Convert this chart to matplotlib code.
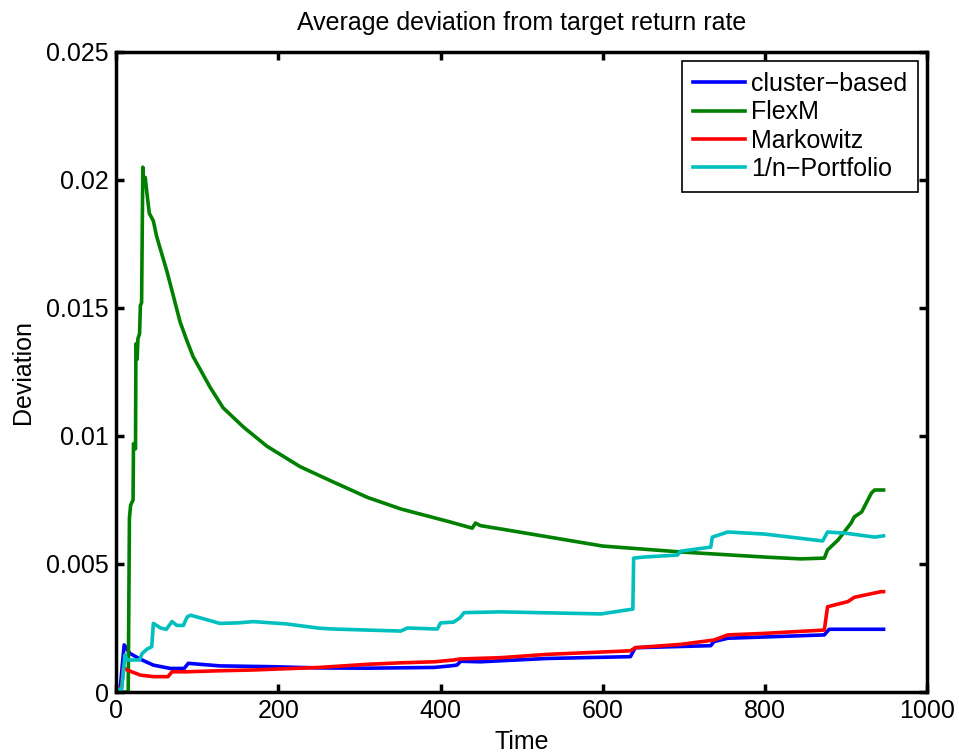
import numpy as np
import matplotlib
matplotlib.use("Agg")
import matplotlib.pyplot as plt
from matplotlib.ticker import FuncFormatter

plt.rcParams['font.family'] = ['Liberation Sans', 'DejaVu Sans']

# values (time, deviation)
t_cluster = [0, 5, 10, 17, 30, 46, 67, 84, 89, 128, 190, 251, 309, 392, 412,
             420, 425, 449, 531, 634, 640, 733, 737, 754, 873, 879, 946]
v_cluster = [0, 0.0001, 0.00184, 0.00151, 0.00128, 0.00105, 0.00092, 0.00092, 0.00112,
             0.00102, 0.00099, 0.00094, 0.00093, 0.00096, 0.00102,
             0.00105, 0.0012, 0.00118, 0.00131, 0.00138, 0.00173, 0.00181, 0.00197, 0.0021,
             0.00223, 0.00245, 0.00245]

t_flexm = [0, 15, 16.5, 18, 21, 21.5, 24, 24.5, 26, 27, 29, 30, 31.5, 33, 34, 36, 38, 41,
           46, 50, 63, 79, 87, 95, 116, 132, 157, 186, 227, 268, 310, 351, 412, 439, 443,
           449, 474, 600, 696, 800, 844, 873, 877, 890, 906, 910, 919, 931, 935, 946]
v_flexm = [0, 0, 0.0068, 0.0073, 0.0075, 0.0097, 0.0095, 0.0136, 0.013, 0.0138, 0.014,
           0.0151, 0.0152, 0.0205, 0.0199, 0.0201, 0.0195, 0.0187, 0.0184, 0.0178, 0.0164,
           0.01445, 0.01375, 0.0131, 0.0119, 0.0111, 0.01035, 0.0096, 0.0088, 0.0082,
           0.0076, 0.00715, 0.00664, 0.0064, 0.0066, 0.0065, 0.00637, 0.0057, 0.00547,
           0.00527, 0.0052, 0.00523, 0.00555, 0.00594, 0.0066, 0.00684, 0.00703, 0.00777,
           0.00789, 0.00789]

t_markowitz = [0, 7, 9, 13.6, 30, 46, 64, 69, 87, 128, 169, 251, 309, 351, 392,
               416, 424, 474, 531, 634, 640, 696, 737, 754, 799, 873, 877, 902, 910, 943, 946]
v_markowitz = [0, 0.0002, 0.00096, 0.00086, 0.00066, 0.0006, 0.0006, 0.00079, 0.00079,
               0.00083, 0.00086, 0.00096, 0.00108, 0.00114, 0.00118,
               0.00125, 0.00129, 0.00134, 0.00147, 0.00161, 0.00173, 0.00186, 0.00203,
               0.00223, 0.00229, 0.00242, 0.00333, 0.00353, 0.0037, 0.00392, 0.00392]

t_onen = [0, 7, 11, 14, 29, 32, 38, 44, 46, 55, 62, 69, 75, 83, 85, 88, 92, 128, 150, 169,
          210, 251, 268, 351, 359, 396, 400, 416, 424, 429, 474, 598, 637, 638, 650, 692,
          696, 733, 735, 754, 799, 871, 877, 900, 935, 946]
v_onen = [0.0001, 0.0001, 0.00145, 0.00125, 0.00125, 0.0015, 0.00167, 0.00177, 0.00268,
          0.0025, 0.00245, 0.00275, 0.0026, 0.0026, 0.00275, 0.00294, 0.003, 0.00268, 0.0027,
          0.00275, 0.00266, 0.00249, 0.00246, 0.00238, 0.0025, 0.00246, 0.0027, 0.00273,
          0.0029, 0.0031, 0.00313, 0.00305, 0.00324, 0.00523, 0.00527, 0.00535, 0.0055,
          0.00566, 0.00605, 0.00625, 0.00617, 0.0059, 0.00625, 0.0062, 0.00605, 0.0061]

fig = plt.figure(figsize=(9.59, 7.53), dpi=100)
ax = fig.add_axes([0.121, 0.081, 0.846, 0.85])

lw = 2.6
ax.plot(t_cluster, v_cluster, color=(0, 0, 1), lw=lw, label="cluster\u2212based")
ax.plot(t_flexm, v_flexm, color=(0, 0.5, 0), lw=lw, label="FlexM")
ax.plot(t_markowitz, v_markowitz, color=(1, 0, 0), lw=lw, label="Markowitz")
ax.plot(t_onen, v_onen, color=(0, 0.75, 0.75), lw=lw, label="1/n\u2212Portfolio")

ax.set_xlim(0, 1000)
ax.set_ylim(0, 0.025)
ax.set_xticks(np.arange(0, 1001, 200))
ax.set_yticks([0, 0.005, 0.01, 0.015, 0.02, 0.025])
ax.yaxis.set_major_formatter(FuncFormatter(lambda v, p: "%g" % round(v, 4)))

for s in ax.spines.values():
    s.set_linewidth(2.5)
ax.tick_params(direction='in', length=5.5, width=2.5, labelsize=18, pad=5,
               top=True, right=True)

ax.set_title("Average deviation from target return rate", fontsize=18, pad=16)
ax.set_xlabel("Time", fontsize=18, labelpad=5)
ax.set_ylabel("Deviation", fontsize=18, labelpad=8)

leg = ax.legend(loc='upper right', fontsize=18, handlelength=2.05, handletextpad=0.25,
                labelspacing=0.17, borderaxespad=0.36, borderpad=0.45, fancybox=False,
                framealpha=1, edgecolor='black')
leg.get_frame().set_linewidth(1.2)

fig.savefig("out.png", dpi=100)
